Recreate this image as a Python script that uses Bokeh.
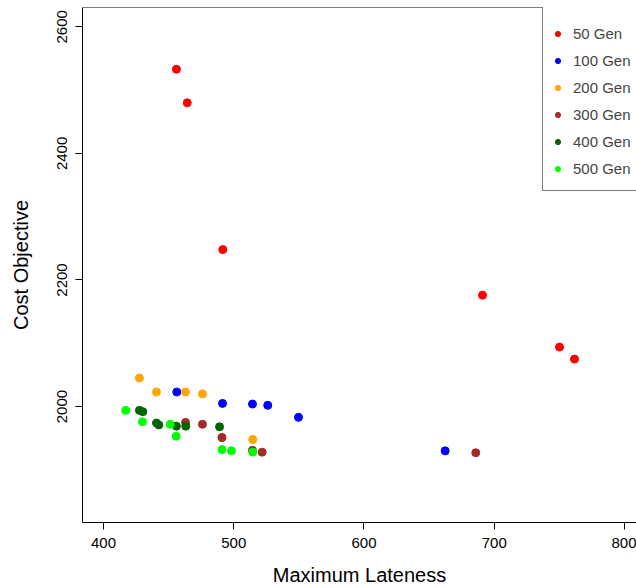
from bokeh.plotting import figure
from bokeh.models import Range1d, FixedTicker, Legend, LegendItem, Span
from bokeh.embed import file_html
from bokeh.resources import INLINE

series_names = ["50 Gen", "100 Gen", "200 Gen", "300 Gen", "400 Gen", "500 Gen"]
series_colors = ["#FF0000", "#0000FF", "#FFA500", "#A52A2A", "#006400", "#00FF00"]

gen50_x = [456.0, 464.3, 491.6, 691.0, 750.1, 761.6]
gen50_y = [2533, 2480, 2248, 2176, 2094, 2075]
gen100_x = [456.3, 491.4, 514.4, 526.1, 549.7, 662.3]
gen100_y = [2023, 2005, 2004, 2002, 1983, 1930]
gen200_x = [427.6, 440.7, 463.0, 476.0, 491.0, 514.6]
gen200_y = [2045, 2023, 2023, 2020, 1951, 1948]
gen300_x = [463.0, 476.0, 491.0, 514.4, 521.8, 685.8]
gen300_y = [1975, 1972, 1951, 1931, 1928, 1927]
gen400_x = [427.6, 430.2, 440.7, 442.5, 456.0, 463.2, 489.1]
gen400_y = [1994, 1992, 1974, 1971, 1969, 1969, 1968]
gen500_x = [417.1, 429.9, 451.2, 455.8, 491.0, 498.3, 514.6]
gen500_y = [1994, 1976, 1972, 1953, 1932, 1930, 1928]

x_ticks = [400, 500, 600, 700, 800]
y_ticks = [2000, 2200, 2400, 2600]

xs = [gen50_x, gen100_x, gen200_x, gen300_x, gen400_x, gen500_x]
ys = [gen50_y, gen100_y, gen200_y, gen300_y, gen400_y, gen500_y]

FONT = "Liberation Sans"

p = figure(width=636, height=588, output_backend="svg", toolbar_location=None,
           x_range=Range1d(383.9, 809.2), y_range=Range1d(1816.8, 2630.6),
           min_border_left=82, min_border_right=0, min_border_top=7, min_border_bottom=65)
p.outline_line_color = None
p.grid.visible = False
p.background_fill_color = "white"
p.border_fill_color = "white"

p.add_layout(Span(location=2630.6, dimension="width", line_color="black", line_width=1))

for ax, ticks in ((p.xaxis[0], x_ticks), (p.yaxis[0], y_ticks)):
    ax.ticker = FixedTicker(ticks=ticks)
    ax.minor_tick_line_color = None
    ax.major_tick_in = 0
    ax.major_tick_out = 7
    ax.axis_line_color = "black"
    ax.major_tick_line_color = "black"
    ax.major_label_text_font = FONT
    ax.major_label_text_font_size = "15px"
    ax.major_label_text_color = "black"
    ax.axis_label_text_font = FONT
    ax.axis_label_text_font_size = "20px"
    ax.axis_label_text_font_style = "normal"
    ax.axis_label_text_color = "black"

p.xaxis.axis_label = "Maximum Lateness"
p.yaxis.axis_label = "Cost Objective"
p.xaxis.major_label_standoff = 8
p.xaxis.axis_label_standoff = 13
p.yaxis.major_label_standoff = 8
p.yaxis.axis_label_standoff = 23
p.yaxis.major_label_orientation = "vertical"

items = []
for name, color, x, y in zip(series_names, series_colors, xs, ys):
    r = p.scatter(x, y, size=8, fill_color=color, line_color=color)
    items.append(LegendItem(label=name, renderers=[r]))

legend = Legend(items=items, location=(460, 331), padding=8, spacing=0,
                label_height=27, glyph_width=13, glyph_height=13, label_standoff=9,
                border_line_color="black", border_line_width=1,
                background_fill_color="white", background_fill_alpha=1.0,
                label_text_font=FONT, label_text_font_size="15px",
                title=" ", title_text_font_size="4px", title_standoff=0)
p.add_layout(legend)

open("out.html", "w").write(file_html(p, INLINE))
